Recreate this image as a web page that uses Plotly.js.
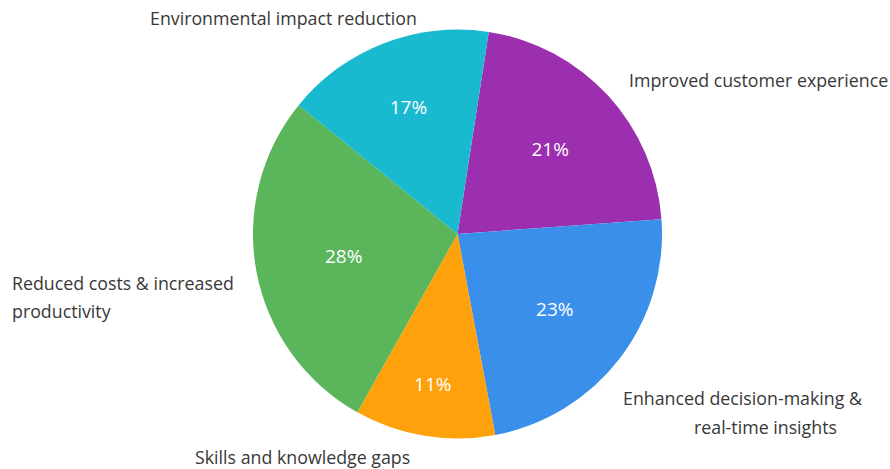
<!DOCTYPE html>
<html>
<head>
<meta charset="utf-8">
<script src="https://cdn.plot.ly/plotly-3.0.1.min.js"></script>
<style>html,body{margin:0;padding:0;background:#fff;}#chart{width:890px;height:469px;}</style>
</head>
<body>
<div id="chart"></div>
<script>
const categories = [
  "Improved customer experience",
  "Enhanced decision-making &<br>real-time insights",
  "Skills and knowledge gaps",
  "Reduced costs & increased<br>productivity",
  "Environmental impact reduction"
];
const values = [21.4, 23.2, 11.1, 27.7, 16.6];
const colors = ["#9C2FB0", "#3A8FEA", "#FFA10A", "#5BB55B", "#19B9CF"];

// label anchor positions (paper coords) per category, lines split on <br>
const labelPlacement = [
  {x: 627/890, y: 1 - 80/469, xanchor: "left"},
  {x: 742/890, y: 1 - 398/469, xanchor: "center", dy: -29},
  {x: 193/890, y: 1 - 457/469, xanchor: "left"},
  {x: 10/890,  y: 1 - 283/469, xanchor: "left", dy: -28},
  {x: 148/890, y: 1 - 18/469, xanchor: "left"}
];

const annotations = [];
categories.forEach((c, i) => {
  const p = labelPlacement[i];
  c.split("<br>").forEach((line, j) => {
    let x = p.x;
    if (i === 1 && j === 1) { x = 765/890; }
    annotations.push({
      text: line, xref: "paper", yref: "paper",
      x: x, y: p.y + (j * (p.dy || 0)) / 469,
      xanchor: p.xanchor, yanchor: "middle", showarrow: false,
      font: {family: "Open Sans", size: 17.8, color: "#383838"}
    });
  });
});

const data = [{
  type: "pie",
  labels: categories,
  values: values,
  sort: false,
  direction: "clockwise",
  rotation: 8.8,
  marker: {colors: colors, line: {width: 0}},
  textinfo: "percent",
  textposition: "inside",
  insidetextorientation: "horizontal",
  texttemplate: "%{percent:.0%}",
  textfont: {family: "Open Sans", size: 19, color: "#ffffff"},
  hoverinfo: "none",
  domain: {x: [253/890, 662/890], y: [30.5/469, 439.5/469]}
}];

const layout = {
  width: 890, height: 469,
  margin: {l: 0, r: 0, t: 0, b: 0},
  showlegend: false,
  paper_bgcolor: "#ffffff",
  annotations: annotations
};

Plotly.newPlot("chart", data, layout, {displayModeBar: false, staticPlot: true});
</script>
</body>
</html>
